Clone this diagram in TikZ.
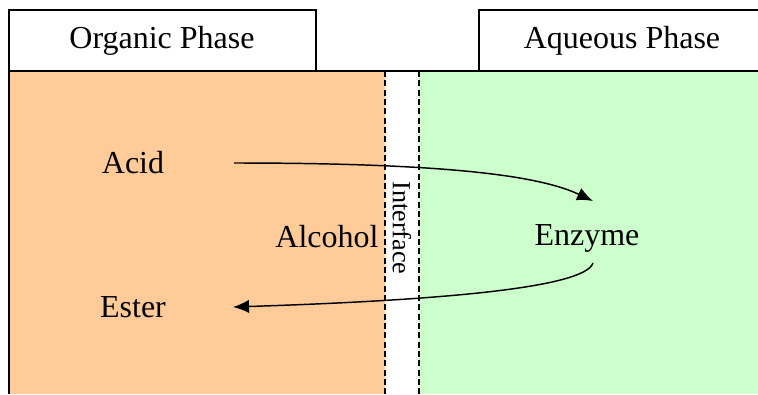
\documentclass[tikz,border=0pt]{standalone}
\usepackage{fontspec}
\setmainfont{Liberation Serif}
\usetikzlibrary{arrows.meta}
\definecolor{organic}{RGB}{255,204,153}
\definecolor{aqueous}{RGB}{204,255,204}

\begin{document}
\begin{tikzpicture}[x = 0.75pt, y = -0.75pt, font = \fontsize{24}{28}\selectfont, flow/.style = {line width = 1.1pt, -{Latex[length = 12pt, width = 10pt]}}, border/.style = {line width = 1pt}, layer/.style = {line width = 0.9pt, dash pattern = on 4.5pt off 2.5pt}]
	\useasboundingbox (0,0) rectangle (758,394);
	\fill[organic] (9,71) rectangle (385,394);
	\fill[aqueous] (419,71) rectangle (758,394);
	\draw[border] (9,394) -- (9,10) -- (316,10) -- (316,71);
	\draw[border] (479,71) -- (479,10) -- (759,10);
	\draw[border] (9,71) -- (759,71);
	\draw[layer] (385,71) -- (385,394);
	\draw[layer] (419,71) -- (419,394);
	\node (organic) at (162,41) {Organic Phase};
	\node (aqueous) at (622,41) {Aqueous Phase};
	\node (acid) at (133,163) {Acid};
	\node (alcohol) at (327,237) {Alcohol};
	\node (ester) at (133,307) {Ester};
	\node (enzyme) at (587,238) {Enzyme};
	\node[rotate = -90, font = \fontsize{19.6}{24}\selectfont] (interface) at (402,228) {Interface};
	\coordinate (acidout) at (234,163);
	\coordinate (enzymein) at (593,201);
	\coordinate (enzymeout) at (593,263);
	\coordinate (esterin) at (233,307);
	\draw[flow] (acidout) .. controls (450,163) and (540,176) .. (enzymein);
	\draw[flow] (enzymeout) .. controls (585,287) and (450,300) .. (esterin);
\end{tikzpicture}
\end{document}
